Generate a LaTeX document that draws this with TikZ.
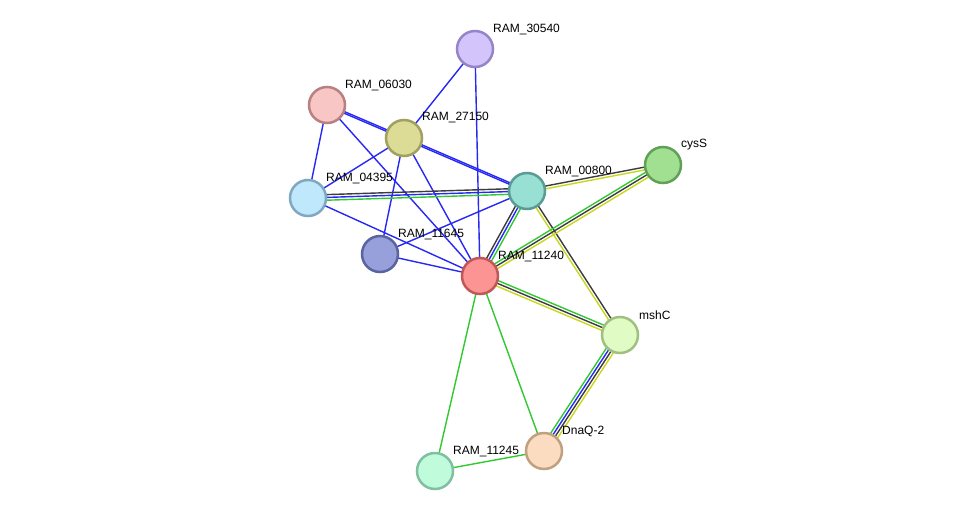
\documentclass[tikz,border=0pt]{standalone}
\usepackage{fontspec}
\setmainfont{Liberation Sans}
\usetikzlibrary{calc}
\pgfdeclarelayer{bg}
\pgfsetlayers{bg,main}
\definecolor{eblue}{RGB}{40,40,245}
\definecolor{egreen}{RGB}{50,200,50}
\definecolor{egray}{RGB}{60,60,60}
\definecolor{eyellow}{RGB}{200,215,30}
\tikzset{
  prot/.style={circle, minimum size=36pt, inner sep=0pt, line width=2.5pt},
  lbl/.style={anchor=west, font=\fontsize{12}{14}\selectfont, inner sep=0pt},
  edge/.style={line width=1.4pt}
}
\newcommand\multiedge[3]{%
  \foreach \c/\o in {#3}{%
    \draw[edge,\c] ($(#1.center)!\o pt!90:(#2.center)$) -- ($(#2.center)!\o pt!-90:(#1.center)$);
  }%
}
\begin{document}
\begin{tikzpicture}[x=1pt,y=-1pt]
\useasboundingbox (0,0) rectangle (975,517);
% nodes
\node[prot, fill={rgb,255:red,212;green,196;blue,252}, draw={rgb,255:red,150;green,132;blue,200}] (n30540) at (475,49) {};
\node[prot, fill={rgb,255:red,249;green,198;blue,198}, draw={rgb,255:red,184;green,128;blue,128}] (n06030) at (327,105) {};
\node[prot, fill={rgb,255:red,220;green,220;blue,150}, draw={rgb,255:red,160;green,160;blue,96}] (n27150) at (404,138) {};
\node[prot, fill={rgb,255:red,192;green,232;blue,252}, draw={rgb,255:red,128;green,168;blue,192}] (n04395) at (308,198) {};
\node[prot, fill={rgb,255:red,152;green,224;blue,212}, draw={rgb,255:red,90;green,156;blue,148}] (n00800) at (527,191) {};
\node[prot, fill={rgb,255:red,160;green,224;blue,144}, draw={rgb,255:red,96;green,160;blue,88}] (ncysS) at (663,165) {};
\node[prot, fill={rgb,255:red,152;green,160;blue,220}, draw={rgb,255:red,90;green,100;blue,160}] (n11645) at (380,254) {};
\node[prot, fill={rgb,255:red,252;green,148;blue,148}, draw={rgb,255:red,192;green,88;blue,88}] (n11240) at (480,276) {};
\node[prot, fill={rgb,255:red,224;green,252;blue,196}, draw={rgb,255:red,160;green,192;blue,128}] (nmshC) at (620,335) {};
\node[prot, fill={rgb,255:red,252;green,220;blue,192}, draw={rgb,255:red,192;green,160;blue,128}] (nDnaQ) at (544,451) {};
\node[prot, fill={rgb,255:red,192;green,252;blue,220}, draw={rgb,255:red,128;green,192;blue,160}] (n11245) at (435,471) {};
% labels
\node[lbl] (l30540) at (493,29.5) {RAM\_30540};
\node[lbl] (l06030) at (345,85.5) {RAM\_06030};
\node[lbl] (l27150) at (422,117.5) {RAM\_27150};
\node[lbl] (l04395) at (326,178.5) {RAM\_04395};
\node[lbl] (l00800) at (545,171.5) {RAM\_00800};
\node[lbl] (lcysS) at (681,144.5) {cysS};
\node[lbl] (l11645) at (398,234.5) {RAM\_11645};
\node[lbl] (l11240) at (498,256.5) {RAM\_11240};
\node[lbl] (lmshC) at (639,315.5) {mshC};
\node[lbl] (lDnaQ) at (562,431.5) {DnaQ-2};
\node[lbl] (l11245) at (453,451.5) {RAM\_11245};
% edges
\begin{pgfonlayer}{bg}
\draw[edge,eblue] (n30540.center) -- (n27150.center);
\draw[edge,eblue] (n30540.center) -- (n11240.center);
\multiedge{n06030}{n27150}{eblue/0.8, eblue/-0.8}
\draw[edge,eblue] (n06030.center) -- (n04395.center);
\draw[edge,eblue] (n06030.center) -- (n11240.center);
\draw[edge,eblue] (n27150.center) -- (n04395.center);
\draw[edge,eblue] (n27150.center) -- (n11645.center);
\draw[edge,eblue] (n27150.center) -- (n11240.center);
\multiedge{n27150}{n00800}{eblue/0.8, eblue/-0.8}
\multiedge{n04395}{n00800}{egray/2.8, eblue/0, egreen/-2.8}
\draw[edge,eblue] (n04395.center) -- (n11240.center);
\draw[edge,eblue] (n11645.center) -- (n00800.center);
\draw[edge,eblue] (n11645.center) -- (n11240.center);
\multiedge{n00800}{ncysS}{egray/1.4, eyellow/-1.4}
\multiedge{n11240}{n00800}{egray/2.8, eblue/0, egreen/-2.8}
\multiedge{n00800}{nmshC}{egray/1.4, eyellow/-1.4}
\multiedge{n11240}{ncysS}{egreen/2.8, egray/0, eyellow/-2.8}
\multiedge{n11240}{nmshC}{egreen/2.8, egray/0, eyellow/-2.8}
\multiedge{nDnaQ}{nmshC}{egreen/4.2, eblue/1.4, egray/-1.4, eyellow/-4.2}
\draw[edge,egreen] (n11240.center) -- (nDnaQ.center);
\draw[edge,egreen] (n11240.center) -- (n11245.center);
\draw[edge,egreen] (n11245.center) -- (nDnaQ.center);
\end{pgfonlayer}
\end{tikzpicture}
\end{document}
